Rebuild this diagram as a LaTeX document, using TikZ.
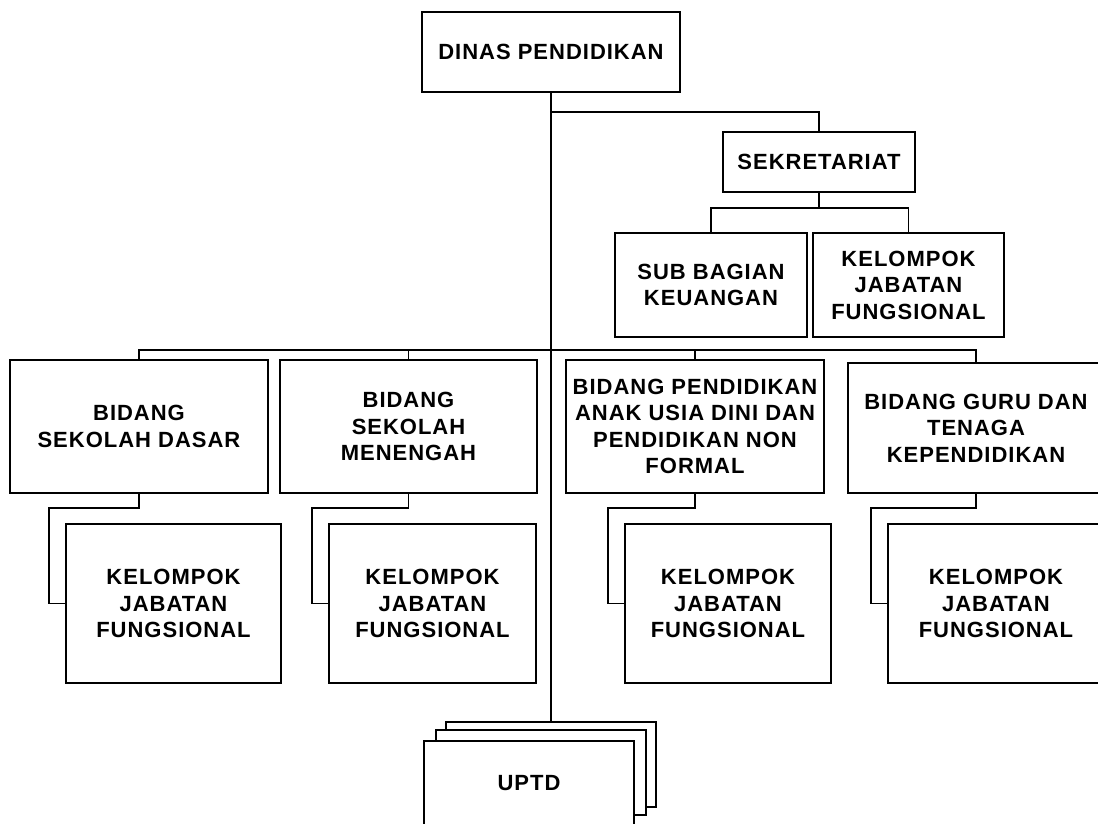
\documentclass[tikz,border=0pt]{standalone}
\usepackage{fontspec}
\newfontfamily\orgfont{Liberation Sans Bold}[LetterSpace=4.5]
\begin{document}
\begin{tikzpicture}[x=1pt,y=-1pt,
  box/.style={draw=black, line width=1.5pt, fill=white, rectangle, inner sep=0pt, align=center,
    font=\orgfont\fontsize{22}{26.5}\selectfont},
  conn/.style={line width=1.6pt},
  mainline/.style={line width=2.3pt}]
\useasboundingbox (0,0) rectangle (1098,823);
\clip (0,0) rectangle (1098,823);
% top
\node[box, minimum width=258pt, minimum height=80pt] (dinas) at (551,52) {DINAS PENDIDIKAN};
\node[box, minimum width=192pt, minimum height=60pt] (sek) at (819,162) {SEKRETARIAT};
\node[box, minimum width=192pt, minimum height=104pt] (sub) at (711,285) {SUB BAGIAN\\KEUANGAN};
\node[box, minimum width=191pt, minimum height=104pt] (kjf) at (908.5,285) {KELOMPOK\\JABATAN\\FUNGSIONAL};
% bidang row
\node[box, minimum width=258pt, minimum height=133pt] (b1) at (139,426.5) {BIDANG\\SEKOLAH DASAR};
\node[box, minimum width=257pt, minimum height=133pt] (b2) at (408.5,426.5) {BIDANG\\SEKOLAH\\MENENGAH};
\node[box, minimum width=258pt, minimum height=133pt] (b3) at (695,426.5) {BIDANG PENDIDIKAN\\ANAK USIA DINI DAN\\PENDIDIKAN NON\\FORMAL};
\node[box, minimum width=256pt, minimum height=130pt] (b4) at (976,428) {BIDANG GURU DAN\\TENAGA\\KEPENDIDIKAN};
% kelompok row
\node[box, minimum width=215pt, minimum height=159pt] (k1) at (173.5,603.5) {KELOMPOK\\JABATAN\\FUNGSIONAL};
\node[box, minimum width=207pt, minimum height=159pt] (k2) at (432.5,603.5) {KELOMPOK\\JABATAN\\FUNGSIONAL};
\node[box, minimum width=206pt, minimum height=159pt] (k3) at (728,603.5) {KELOMPOK\\JABATAN\\FUNGSIONAL};
\node[box, minimum width=216pt, minimum height=159pt] (k4) at (996,603.5) {KELOMPOK\\JABATAN\\FUNGSIONAL};
% UPTD stack
\node[box, minimum width=210pt, minimum height=85pt] (u3) at (551,764.5) {};
\node[box, minimum width=210pt, minimum height=85pt] (u2) at (541,772.5) {};
\node[box, minimum width=210pt, minimum height=84pt] (u1) at (529,783) {UPTD};
% connectors
\coordinate (j1) at (551,112);
\coordinate (j2) at (551,350);
\draw[mainline] (dinas.south) -- (u3.north);
\draw[conn] (j1) -| (sek.north);
\draw[conn] (sek.south) -- ++(0,15) -| (sub.north);
\draw[conn] (sek.south) -- ++(0,15) -| (kjf.north);
\draw[conn] (j2) -| (b1.north);
\draw[conn] (j2) -| (b2.north);
\draw[conn] (j2) -| (b3.north);
\draw[conn] (j2) -| (b4.north);
\draw[conn] (b1.south) -- ++(0,14) -| ([xshift=-16pt]k1.west) -- (k1.west);
\draw[conn] (b2.south) -- ++(0,14) -| ([xshift=-16pt]k2.west) -- (k2.west);
\draw[conn] (b3.south) -- ++(0,14) -| ([xshift=-16pt]k3.west) -- (k3.west);
\draw[conn] (b4.south) -- ++(0,14) -| ([xshift=-16pt]k4.west) -- (k4.west);
\end{tikzpicture}
\end{document}
